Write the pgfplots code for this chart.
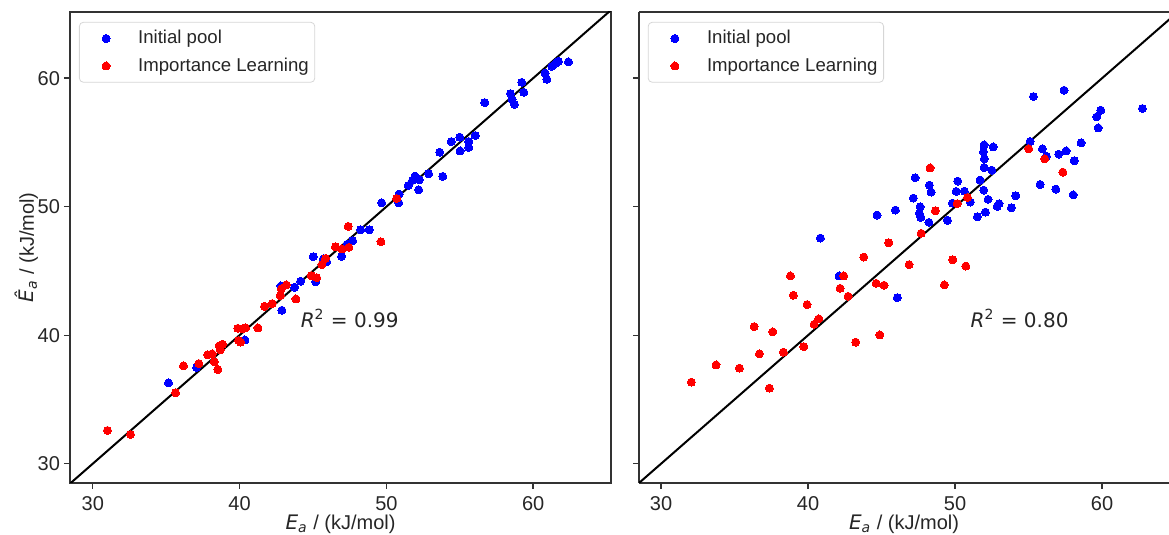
\documentclass[border=0pt]{standalone}
\usepackage{pgfplots}
\pgfplotsset{compat=1.18}
\usepackage{pgfplotstable}
\usepackage{fontspec}
\setmainfont{Liberation Sans}
\newfontfamily\dejavu{DejaVu Sans}
\definecolor{txt}{gray}{0.15}
\definecolor{spine}{gray}{0.2}
\definecolor{legframe}{gray}{0.84}

\pgfplotstableread{
x y
35.16 36.29
37.07 37.48
40.36 39.63
42.88 41.94
42.82 43.83
43.75 43.73
44.16 44.20
45.18 44.16
45.02 46.11
45.70 45.93
45.93 45.72
46.95 46.14
47.33 47.07
47.70 47.35
48.25 48.20
48.83 48.20
49.68 50.30
50.84 50.30
50.86 50.98
51.49 51.65
52.20 51.31
51.79 52.07
52.24 52.09
51.95 52.38
52.88 52.56
53.84 52.36
53.63 54.24
54.42 55.07
55.02 54.34
55.00 55.41
55.61 55.07
55.61 54.61
56.06 55.54
56.70 58.10
58.45 58.80
58.56 58.36
58.72 57.97
59.22 59.68
59.36 58.90
60.81 60.40
60.93 59.91
61.27 60.92
61.56 61.18
61.72 61.31
62.40 61.26
}\leftblue

\pgfplotstableread{
x y
31.00 32.59
32.57 32.28
35.64 35.52
36.18 37.61
37.23 37.79
37.82 38.47
38.13 38.55
38.27 37.93
38.52 37.33
38.61 39.17
38.84 39.30
38.68 38.86
39.88 40.54
40.20 40.49
40.41 40.57
39.93 39.58
40.07 39.46
41.25 40.57
41.70 42.25
42.22 42.46
42.77 43.08
42.84 43.60
43.18 43.91
43.84 42.82
44.88 44.63
45.25 44.48
45.86 45.98
45.61 45.49
46.53 46.88
46.97 46.71
47.45 46.84
47.40 48.47
49.63 47.27
50.70 50.64
}\leftred

\pgfplotstableread{
x y
40.84 47.56
42.11 44.61
46.07 42.92
44.69 49.35
45.94 49.74
47.16 50.67
47.28 52.25
47.62 49.99
47.57 49.48
47.67 49.17
48.25 51.68
48.37 51.14
48.22 48.78
49.48 48.94
49.82 50.28
50.18 51.99
50.07 51.19
50.63 51.21
51.04 50.36
51.52 49.22
52.06 49.58
52.24 50.57
51.95 51.29
51.70 52.07
52.50 52.84
51.97 53.05
51.99 53.72
51.93 54.27
51.97 54.81
52.59 54.65
52.86 50.02
52.99 50.23
53.83 49.92
54.13 50.85
55.10 55.07
55.33 58.57
55.78 51.73
55.94 54.50
56.21 53.93
56.85 51.37
57.05 54.09
57.41 59.06
57.55 54.34
58.03 50.92
58.10 53.57
58.57 54.97
59.64 56.99
59.73 56.13
59.91 57.51
62.74 57.64
}\rightblue

\pgfplotstableread{
x y
32.06 36.35
33.74 37.69
35.33 37.44
37.37 35.88
36.69 38.55
36.33 40.67
37.60 40.26
38.32 38.68
39.71 39.11
39.93 42.38
40.41 40.85
40.73 41.27
39.00 43.11
38.80 44.61
42.43 44.61
42.18 43.65
42.72 43.03
43.24 39.46
44.88 40.02
44.63 44.04
45.17 43.89
43.79 46.08
45.49 47.19
46.87 45.49
47.69 47.93
48.30 53.02
48.66 49.68
50.14 50.23
50.84 50.72
49.27 43.91
49.84 45.87
50.73 45.38
55.01 54.50
56.10 53.72
57.33 52.69
}\rightred

\pgfplotsset{
  panel/.style={
    scale only axis,
    height=235.5pt,
    ymin=28.5, ymax=65.15,
    xtick={30,40,50,60}, ytick={30,40,50,60},
    tick pos=left, tick align=outside,
    major tick length=3pt,
    every tick/.style={spine, line width=0.7pt},
    axis line style={spine, line width=0.7pt},
    tick label style={font=\fontsize{10}{12}\selectfont, text=txt},
    yticklabel style={xshift=1.5pt},
    /pgf/number format/assume math mode=true,
    xlabel={{\dejavu\itshape E}\textsubscript{\dejavu\itshape a} / (kJ/mol)},
    xlabel style={font=\fontsize{10}{12}\selectfont, text=txt, at={(axis description cs:0.5,-0.098)}, anchor=base},
    legend style={at={(axis description cs:0.0166,0.979)}, anchor=north west,
      draw=legframe, rounded corners=2pt, fill=white,
      font=\fontsize{9.3}{11.2}\selectfont, text=txt,
      inner xsep=1pt, inner ysep=2pt, row sep=1.5pt},
    legend cell align=left,
    legend image code/.code={\path[draw=none] (0pt,0pt) -- (26.4pt,0pt); \path[##1, draw=none] plot coordinates {(12.35pt,0pt)};},
  },
  pb/.style={only marks, mark=*, color=blue, mark options={fill=blue, draw=blue, line width=0pt}, mark size=2pt},
  pr/.style={only marks, mark=*, color=red, mark options={fill=red, draw=red, line width=0pt}, mark size=2pt},
}

\begin{document}
\begin{tikzpicture}
\begin{axis}[panel, at={(35pt,26pt)}, anchor=south west,
  width=270.5pt, xmin=28.45, xmax=65.3,
  ylabel={{\dejavu\itshape \^{E}}\textsubscript{\dejavu\itshape a} / (kJ/mol)},
  ylabel style={font=\fontsize{10}{12}\selectfont, text=txt, at={(axis description cs:-0.08,0.5)}, anchor=center},
]
\addplot[black, line width=1pt, forget plot] coordinates {(20,20) (70,70)};
\addplot[pb] table {\leftblue};
\addlegendentry{Initial pool}
\addplot[pr] table {\leftred};
\addlegendentry{Importance Learning}
\node[anchor=base, font=\fontsize{10}{12}\selectfont, text=txt] at (axis cs:47.5,40.62) {{\dejavu\itshape R}{\dejavu\textsuperscript{2} = 0.99}};
\end{axis}
\begin{axis}[panel, at={(319.5pt,26pt)}, anchor=south west,
  width=265pt, xmin=28.5, xmax=64.55,
  axis x line*=box, axis y line*=left,
  yticklabels={},
]
\addplot[black, line width=1pt, forget plot] coordinates {(20,20) (70,70)};
\addplot[pb] table {\rightblue};
\addlegendentry{Initial pool}
\addplot[pr] table {\rightred};
\addlegendentry{Importance Learning}
\node[anchor=base, font=\fontsize{10}{12}\selectfont, text=txt] at (axis cs:54.39,40.62) {{\dejavu\itshape R}{\dejavu\textsuperscript{2} = 0.80}};
\end{axis}
\pgfresetboundingbox
\path[use as bounding box] (0,0) rectangle (584.5pt,267.5pt);
\end{tikzpicture}
\end{document}
